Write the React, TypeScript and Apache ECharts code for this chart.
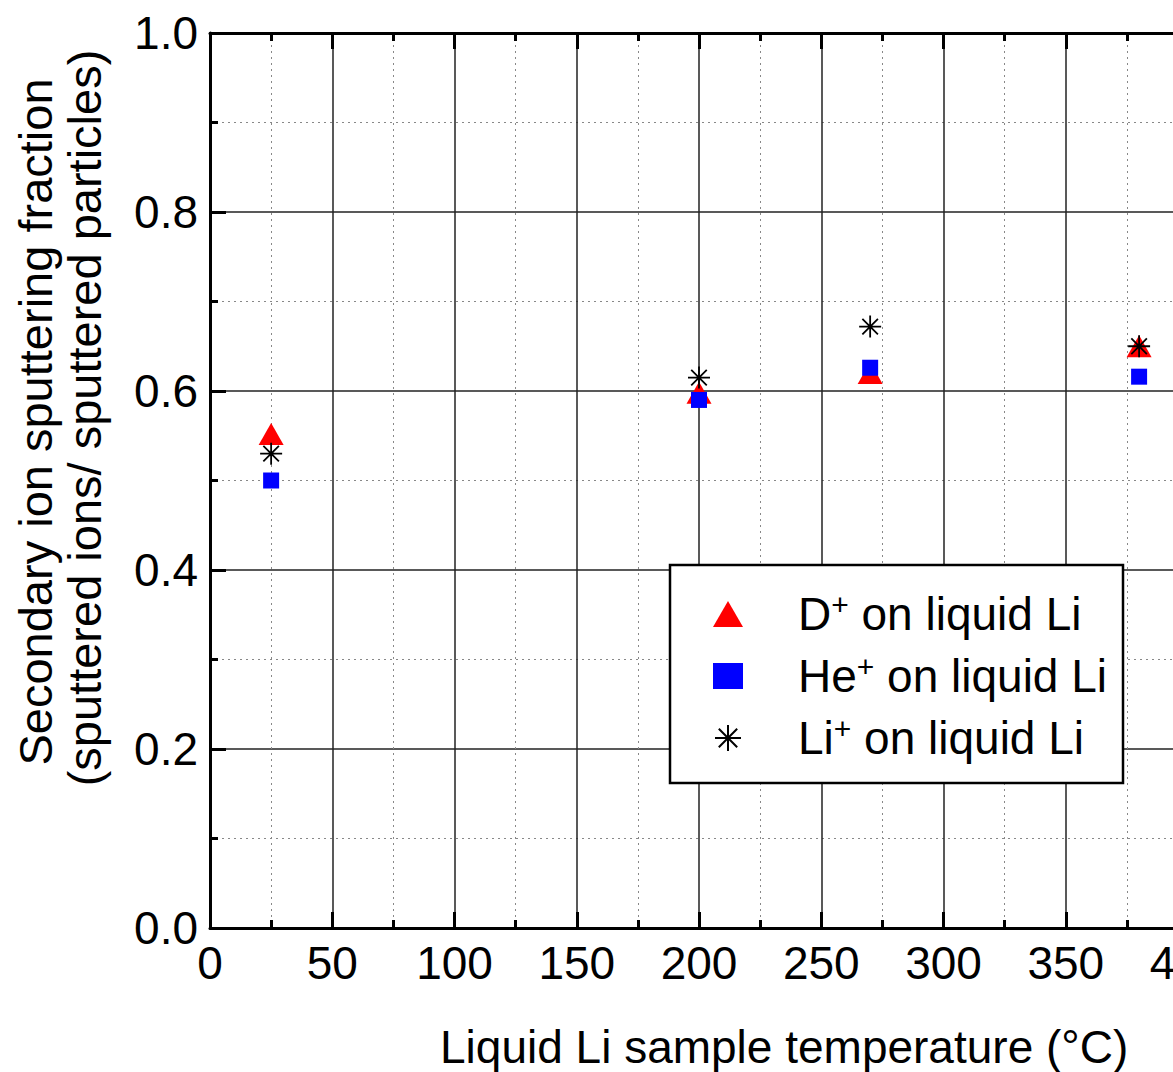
import React, { useEffect, useRef } from "react";
import * as echarts from "echarts";

const temperatures = [25, 200, 270, 380];
const dPlus = [0.552, 0.598, 0.62, 0.65];
const hePlus = [0.5, 0.59, 0.626, 0.616];
const liPlus = [0.53, 0.615, 0.672, 0.65];
const seriesNames = ["D+ on liquid Li", "He+ on liquid Li", "Li+ on liquid Li"];
const legendRich: Record<string, string> = {
  "D+ on liquid Li": "{b|D}{s|+}{b| on liquid Li}",
  "He+ on liquid Li": "{b|He}{s|+}{b| on liquid Li}",
  "Li+ on liquid Li": "{b|Li}{s|+}{b| on liquid Li}",
};
const yName1 = "Secondary ion sputtering fraction";
const yName2 = "(sputtered ions/ sputtered particles)";
const xName = "Liquid Li sample temperature (\u00B0C)";

const STAR = "path://M10,0L10,20M0,10L20,10M2.93,2.93L17.07,17.07M2.93,17.07L17.07,2.93";
const FONT = "Liberation Sans, Arial, sans-serif";

const pairs = (ys: number[]) => temperatures.map((t, i) => [t, ys[i]]);

export default function App() {
  const ref = useRef<HTMLDivElement>(null);
  useEffect(() => {
    if (!ref.current) return;
    const chart = echarts.init(ref.current, undefined, { renderer: "svg" });
    const axisCommon = {
      axisLine: { show: true, lineStyle: { color: "#000", width: 3 } },
      axisTick: { show: true, inside: true, length: 16, lineStyle: { color: "#000", width: 3 } },
      minorTick: { show: true, splitNumber: 2, length: 8, lineStyle: { color: "#000", width: 3 } },
    };
    chart.setOption({
      animation: false,
      backgroundColor: "#fff",
      grid: {
        left: 210,
        top: 33,
        width: 978,
        height: 895,
        containLabel: false,
        outerBoundsMode: "none",
      },
      xAxis: [
        {
          type: "value",
          min: 0,
          max: 400,
          interval: 50,
          position: "bottom",
          ...axisCommon,
          axisLabel: { color: "#000", fontSize: 46, fontFamily: FONT, margin: 12 },
          splitLine: { show: true, lineStyle: { color: "#222", width: 1.5 } },
          minorSplitLine: { show: true, lineStyle: { color: "#888", width: 1, type: [2, 4] } },
        },
        {
          type: "value",
          min: 0,
          max: 400,
          interval: 50,
          position: "top",
          ...axisCommon,
          axisLabel: { show: false },
          splitLine: { show: false },
        },
      ],
      yAxis: [
        {
          type: "value",
          min: 0,
          max: 1,
          interval: 0.2,
          position: "left",
          ...axisCommon,
          axisLabel: {
            color: "#000",
            fontSize: 46,
            fontFamily: FONT,
            margin: 12,
            formatter: (v: number) => v.toFixed(1),
          },
          splitLine: { show: true, lineStyle: { color: "#222", width: 1.5 } },
          minorSplitLine: { show: true, lineStyle: { color: "#888", width: 1, type: [2, 4] } },
        },
      ],
      legend: {
        orient: "vertical",
        left: 708,
        top: 584,
        itemWidth: 30,
        itemHeight: 26,
        itemGap: 14,
        selectedMode: false,
        z: 20,
        data: [
          { name: seriesNames[0], icon: "triangle", itemStyle: { color: "#ff0000", opacity: 1 } },
          { name: seriesNames[1], icon: "rect", itemStyle: { color: "#0000ff", opacity: 1 } },
          {
            name: seriesNames[2],
            icon: STAR,
            itemStyle: { color: "transparent", borderColor: "#000", borderWidth: 2, opacity: 1 },
          },
        ],
        formatter: (name: string) => legendRich[name] || name,
        textStyle: {
          padding: [0, 0, 0, 50],
          fontFamily: FONT,
          color: "#000",
          rich: {
            b: { fontSize: 46, fontFamily: FONT, color: "#000", lineHeight: 50 },
            s: { fontSize: 30, fontFamily: FONT, color: "#000", verticalAlign: "top", lineHeight: 14 },
          },
        },
      },
      graphic: [
        {
          type: "rect",
          shape: { x: 670, y: 565, width: 453, height: 218 },
          style: { fill: "#fff", stroke: "#000", lineWidth: 2.5 },
          z: 2,
        },
        {
          type: "text",
          x: 35,
          y: 422,
          rotation: Math.PI / 2,
          style: {
            text: yName1,
            fontSize: 47,
            fontFamily: FONT,
            fill: "#000",
            align: "center",
            verticalAlign: "middle",
          },
        },
        {
          type: "text",
          x: 84,
          y: 418,
          rotation: Math.PI / 2,
          style: {
            text: yName2,
            fontSize: 47,
            fontFamily: FONT,
            fill: "#000",
            align: "center",
            verticalAlign: "middle",
          },
        },
        {
          type: "text",
          x: 440,
          y: 1047,
          style: {
            text: xName,
            fontSize: 46,
            fontFamily: FONT,
            fill: "#000",
            align: "left",
            verticalAlign: "middle",
          },
        },
      ],
      series: [
        {
          name: seriesNames[0],
          type: "scatter",
          data: pairs(dPlus),
          symbol: "triangle",
          symbolSize: [25, 22],
          itemStyle: { color: "#ff0000", opacity: 1 },
          z: 3,
        },
        {
          name: seriesNames[1],
          type: "scatter",
          data: pairs(hePlus),
          symbol: "rect",
          symbolSize: 16,
          itemStyle: { color: "#0000ff", opacity: 1 },
          z: 4,
        },
        {
          name: seriesNames[2],
          type: "scatter",
          data: pairs(liPlus),
          symbol: STAR,
          symbolSize: 22,
          itemStyle: { color: "transparent", borderColor: "#000", borderWidth: 1.8, opacity: 1 },
          z: 5,
        },
      ],
    });
    return () => chart.dispose();
  }, []);
  return (
    <div
      style={{
        position: "absolute",
        left: 0,
        top: 0,
        width: 1173,
        height: 1072,
        overflow: "hidden",
        background: "#fff",
      }}
    >
      <div ref={ref} style={{ width: 1260, height: 1072 }} />
    </div>
  );
}
